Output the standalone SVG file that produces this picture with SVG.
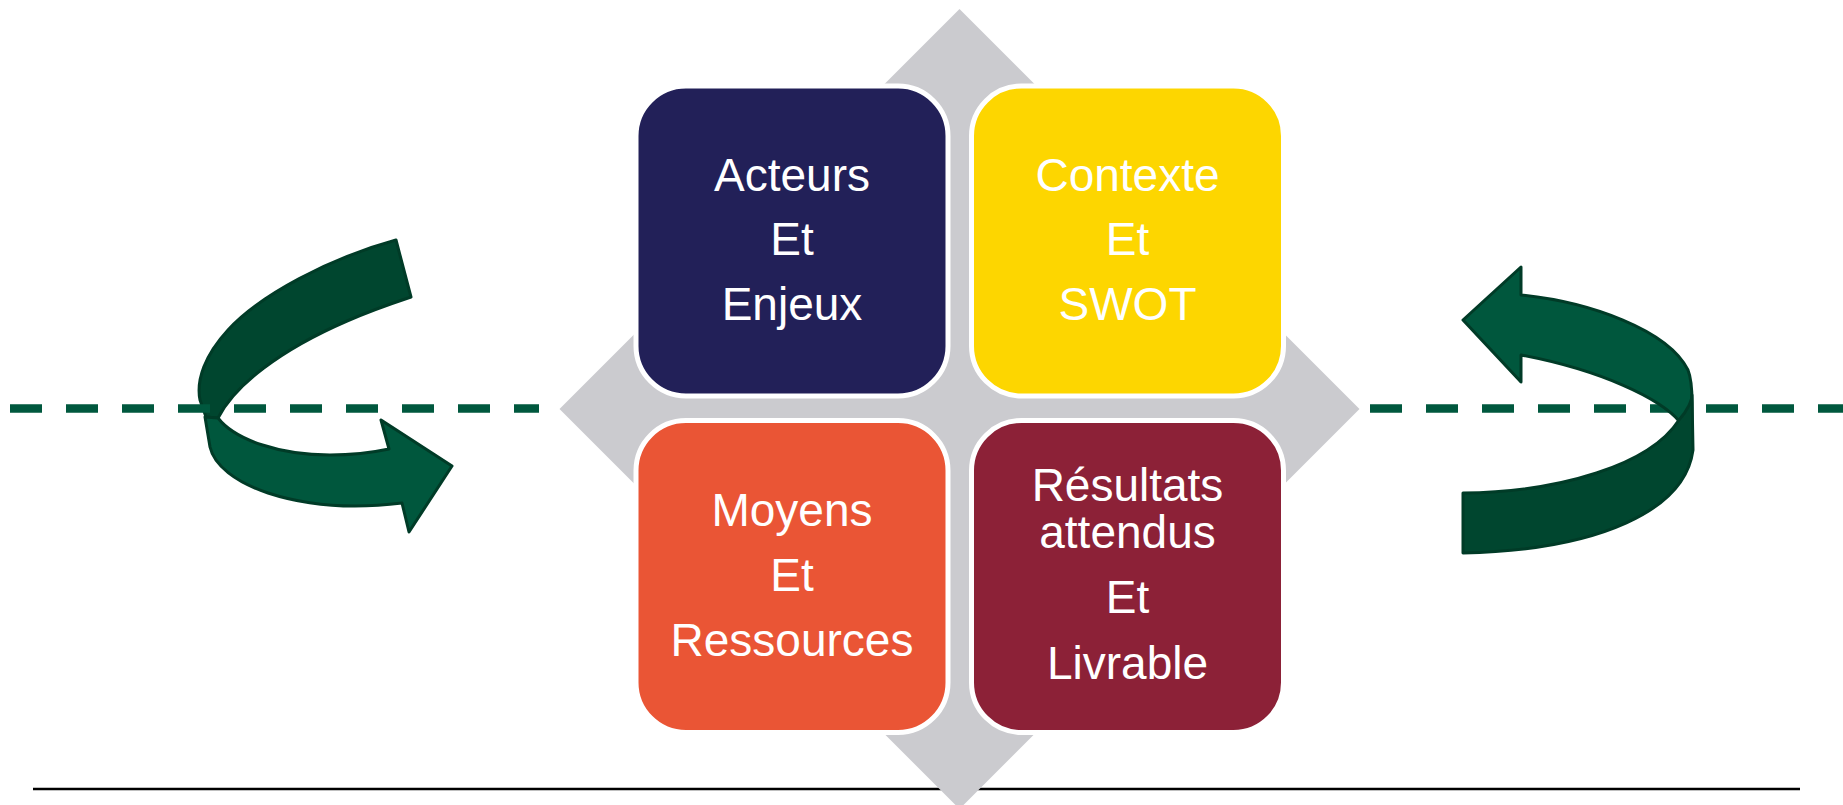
<svg xmlns="http://www.w3.org/2000/svg" width="1843" height="805" viewBox="0 0 1843 805">
<style>
.box{stroke:#fff;stroke-width:5}
.lbl{font-family:"Liberation Sans",Arial,sans-serif;font-size:46px;fill:#fff;text-anchor:middle}
.dash{stroke:#00583E;stroke-width:8.5;stroke-dasharray:32 24;fill:none}
.dk{fill:#00462F;stroke:#003B27;stroke-width:3;stroke-linejoin:round}
.lt{fill:#00573D;stroke:#003B27;stroke-width:3;stroke-linejoin:round}
</style>
<rect width="1843" height="805" fill="#fff"/>
<line x1="33" y1="789" x2="1800" y2="789" stroke="#000" stroke-width="2.5"/>
<polygon id="diamond" points="959.5,9 1359.5,409 959.5,809 559.5,409" fill="#CBCBCF"/>
<g id="box-acteurs">
<rect class="box" x="636" y="86" width="312" height="310" rx="50" fill="#222058"/>
<text class="lbl" x="792" y="191">Acteurs</text>
<text class="lbl" x="792" y="255">Et</text>
<text class="lbl" x="792" y="320">Enjeux</text>
</g>
<g id="box-contexte">
<rect class="box" x="971.5" y="86" width="312" height="310" rx="50" fill="#FDD600"/>
<text class="lbl" x="1127.5" y="191">Contexte</text>
<text class="lbl" x="1127.5" y="255">Et</text>
<text class="lbl" x="1127.5" y="320">SWOT</text>
</g>
<g id="box-moyens">
<rect class="box" x="636" y="420.5" width="312" height="312" rx="50" fill="#EA5535"/>
<text class="lbl" x="792" y="526">Moyens</text>
<text class="lbl" x="792" y="591">Et</text>
<text class="lbl" x="792" y="656">Ressources</text>
</g>
<g id="box-resultats">
<rect class="box" x="971.5" y="420.5" width="312" height="312" rx="50" fill="#8C2137"/>
<text class="lbl" x="1127.5" y="501">Résultats</text>
<text class="lbl" x="1127.5" y="548">attendus</text>
<text class="lbl" x="1127.5" y="613">Et</text>
<text class="lbl" x="1127.5" y="679">Livrable</text>
</g>
<g id="connectors">
<g id="arrow-left">
<path class="dk" d="M396,240 C330,258 260,295 228,330 C205,355 196,380 200,400 L206,417 L218,418 C235,385 280,350 347,321 C370,311 390,304 411,297 Z"/>
<path class="lt" d="M218,418 C235,440 280,455 330,455 C355,455 375,452 389,449 L381,420 L452,466 L409,532 L402,503 C370,507 320,510 268,493 C235,482 214,465 210,447 L205,417 Z"/>
</g>
<line class="dash" x1="10" y1="408.5" x2="539" y2="408.5"/>
<line class="dash" x1="1370" y1="408.5" x2="1843" y2="408.5"/>
<g id="arrow-right">
<path class="lt" d="M1521,295 C1590,302 1668,330 1688,370 C1692,380 1692,392 1692,402 L1692,450 L1680,422 C1660,398 1600,370 1521,355 L1521,382 L1463,320 L1521,267 Z"/>
<path class="dk" d="M1679,420 C1688,410 1692,400 1692,395 L1693,450 C1685,510 1600,550 1463,553 L1463,493 C1560,492 1650,465 1679,420 Z"/>
</g>
</g>
</svg>
